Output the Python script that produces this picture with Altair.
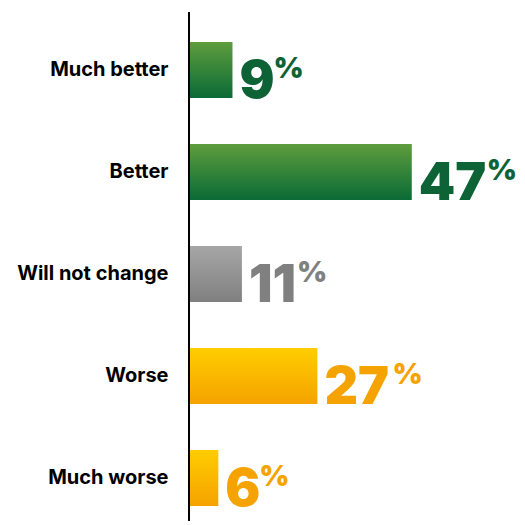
import altair as alt
import pandas as pd

categories = ["Much better", "Better", "Will not change", "Worse", "Much worse"]
values = [9, 47, 11, 27, 6]
groups = ["better", "better", "same", "worse", "worse"]
group_names = ["better", "same", "worse"]
text_colors = ["#0d6335", "#808080", "#f5a300"]

df = pd.DataFrame({"cat": categories, "val": values, "grp": groups})

W, H = 327, 501
XMAX = 69.3
PX_PER_UNIT = W / XMAX

def grad(top, bottom):
    return alt.Gradient(
        gradient="linear",
        stops=[alt.GradientStop(color=top, offset=0), alt.GradientStop(color=bottom, offset=1)],
        x1=0, x2=0, y1=0, y2=1,
    )

gradients = {
    "better": grad("#5e9d3d", "#0a6a36"),
    "same": grad("#a6a6a6", "#808080"),
    "worse": grad("#ffcd00", "#f5a200"),
}

xenc = alt.X("val:Q", scale=alt.Scale(domain=[0, XMAX]), axis=None)
yenc = alt.Y(
    "cat:N",
    sort=categories,
    scale=alt.Scale(range=[30, 494], paddingInner=0.45, paddingOuter=0),
    axis=alt.Axis(
        title=None, ticks=False, domain=False,
        labelFont="Inter", labelFontSize=20, labelFontWeight="bold",
        labelColor="black", labelPadding=22,
    ),
)

base = alt.Chart(df)

bars = [
    base.transform_filter(alt.datum.grp == g).mark_bar(color=gradients[g]).encode(x=xenc, y=yenc)
    for g in group_names
]

rule = base.mark_rule(color="black", strokeWidth=2).encode(
    x=alt.value(-1), y=alt.value(0), y2=alt.value(H + 20)
)

color_enc = alt.Color("grp:N", scale=alt.Scale(domain=group_names, range=text_colors), legend=None)

nums = base.mark_text(
    align="left", baseline="alphabetic", dx=7, dy=28,
    font="Inter", fontSize=52, fontWeight=900,
).encode(x=xenc, y=yenc, text=alt.Text("val:Q"), color=color_enc)

# width of the number text (pixels): ~34 per digit, "1" is narrower (~24)
pct = base.transform_calculate(
    s="toString(datum.val)",
).transform_calculate(
    ones="length(datum.s) - length(replace(datum.s, regexp('1', 'g'), ''))",
).transform_calculate(
    ppos=f"datum.val + (length(datum.s) * 34 - datum.ones * 10) / {PX_PER_UNIT}",
    sign="'%'",
).mark_text(
    align="left", baseline="top", dx=7, dy=-15,
    font="Inter", fontSize=29, fontWeight=900,
).encode(
    x=alt.X("ppos:Q", scale=alt.Scale(domain=[0, XMAX]), axis=None),
    y=yenc, text="sign:N", color=color_enc,
)

chart = alt.layer(*bars, rule, nums, pct).properties(
    width=W, height=H, autosize="none",
    padding={"left": 182, "top": 4, "right": 0, "bottom": 8},
).configure_view(stroke=None)

chart.save("out.html", embed_options={"renderer": "svg", "actions": False})
